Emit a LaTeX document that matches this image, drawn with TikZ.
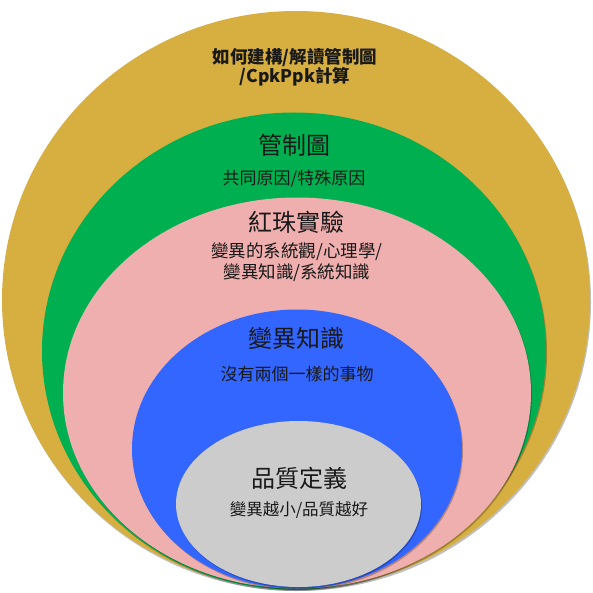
\documentclass[tikz,border=0pt]{standalone}
\usepackage{fontspec}
\newfontfamily\cjk{Noto Sans CJK TC}
\definecolor{cgold}{HTML}{D6AF40}
\definecolor{cgreen}{HTML}{00B050}
\definecolor{cpink}{HTML}{EFAFAE}
\definecolor{cblue}{HTML}{3366FF}
\definecolor{cgray}{HTML}{CCCCCC}
\tikzset{
  shad/.style={fill=black, opacity=0.25},
  big/.style={font=\cjk\fontsize{24}{27}\selectfont, text=black!90},
  small/.style={font=\cjk\fontsize{17}{20}\selectfont, text=black!90, align=center},
}
\begin{document}
\begin{tikzpicture}[x=1pt,y=-1pt]
\useasboundingbox (0,0) rectangle (593,593);
% shadows and rings
\fill[shad] (297,302) ellipse [x radius=294, y radius=289];
\fill[cgold] (296,300) ellipse [x radius=294, y radius=289];
\fill[shad] (295,352.5) ellipse [x radius=252, y radius=238.5];
\fill[cgreen] (294,351) ellipse [x radius=252, y radius=238.5];
\fill[shad] (298,394.5) ellipse [x radius=234, y radius=195.5];
\fill[cpink] (297,393) ellipse [x radius=234, y radius=195.5];
\fill[shad] (298,450.5) ellipse [x radius=165, y radius=139.5];
\fill[cblue] (297,449) ellipse [x radius=165, y radius=139.5];
\fill[shad] (299.5,505.5) ellipse [x radius=122.5, y radius=83];
\fill[cgray] (298.5,504) ellipse [x radius=122.5, y radius=83];
% texts
\node[small, font=\cjk\bfseries\fontsize{17.5}{19.5}\selectfont] (t1) at (295,67) {如何建構/解讀管制圖\\/CpkPpk計算};
\node[big] (t2) at (294,145) {管制圖};
\node[small] (t3) at (294,179) {共同原因/特殊原因};
\node[big] (t4) at (296,222) {紅珠實驗};
\node[small, font=\cjk\fontsize{17.5}{20.5}\selectfont] (t5) at (297,262) {變異的系統觀/心理學/\\變異知識/系統知識};
\node[big] (t6) at (296,338) {變異知識};
\node[small] (t7) at (297,374) {沒有兩個一樣的事物};
\node[big] (t8) at (299,478) {品質定義};
\node[small, font=\cjk\fontsize{16.5}{19}\selectfont] (t9) at (299,510) {變異越小/品質越好};
\end{tikzpicture}
\end{document}
